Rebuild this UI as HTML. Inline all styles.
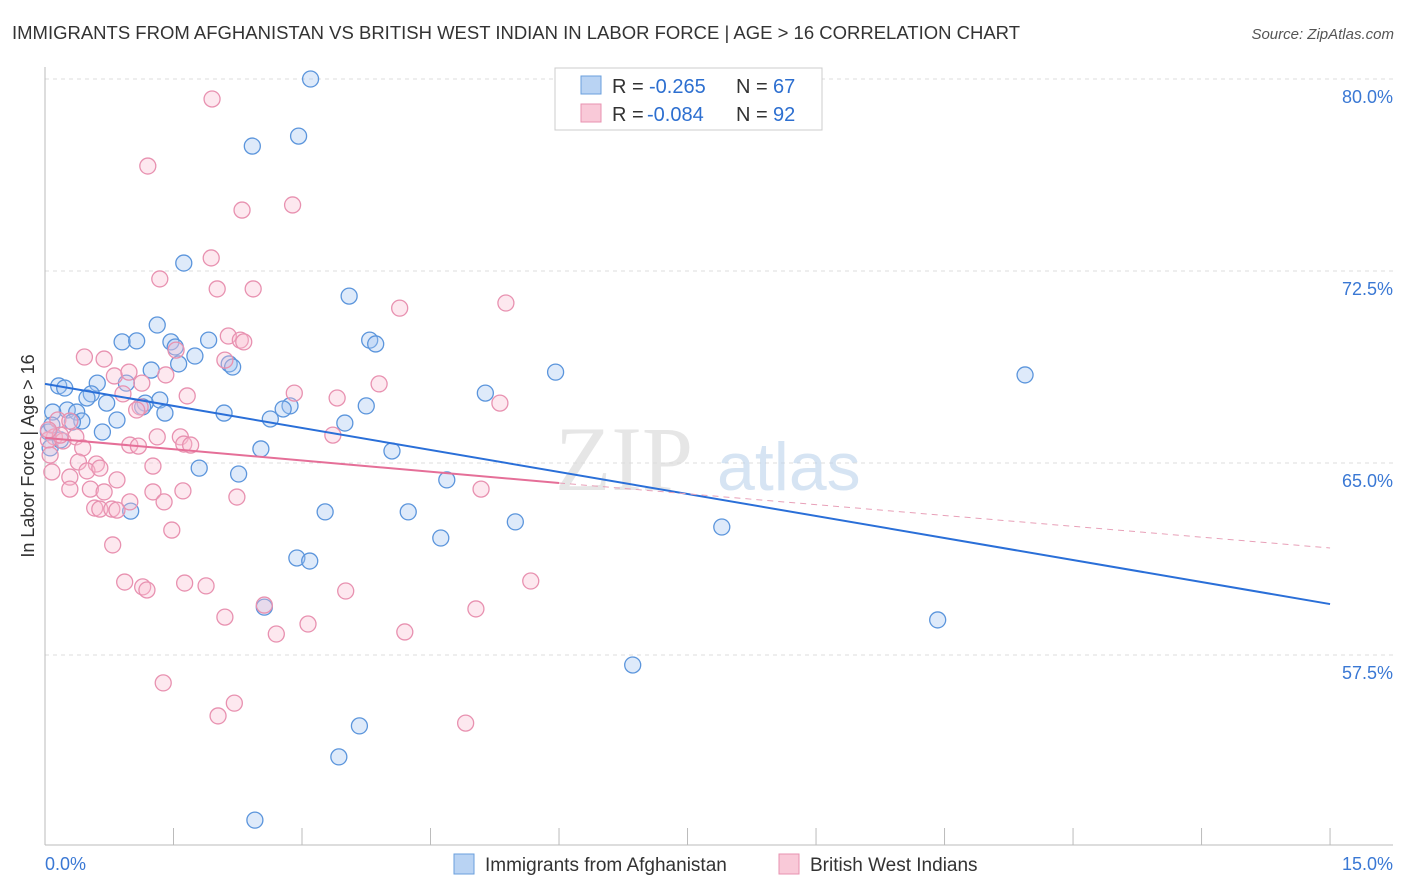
<!DOCTYPE html>
<html><head><meta charset="utf-8"><style>
body{margin:0;background:#fff;font-family:"Liberation Sans",sans-serif;}
svg{display:block}
</style></head><body>
<svg id="chart" width="1406" height="892">
<text x="12" y="39" font-size="18" fill="#333" textLength="1008" lengthAdjust="spacingAndGlyphs">IMMIGRANTS FROM AFGHANISTAN VS BRITISH WEST INDIAN IN LABOR FORCE | AGE &gt; 16 CORRELATION CHART</text>
<text x="1394" y="39" font-size="15" fill="#555" font-style="italic" text-anchor="end">Source: ZipAtlas.com</text>
<g id="grid"></g>
<g id="watermark">
<text x="555" y="490" font-size="92" fill="#dcdcdc" font-family="Liberation Serif,serif" opacity="0.7">ZIP</text>
<text x="717" y="490" font-size="68" fill="#bcd3ec" opacity="0.6">atlas</text>
</g>
<g id="axes"></g>
<g id="marks"></g>
<g>
<rect x="555" y="68" width="267" height="62" fill="#fff" stroke="#ccc"/>
<rect x="581" y="76" width="20" height="18" fill="#b9d3f3" stroke="#6a9fdc"/>
<rect x="581" y="104" width="20" height="18" fill="#f9c9d8" stroke="#e892b0"/>
<text x="612" y="93" font-size="20" fill="#333">R =</text>
<text x="649" y="93" font-size="20" fill="#2d6fd0">-0.265</text>
<text x="736" y="93" font-size="20" fill="#333">N =</text>
<text x="773" y="93" font-size="20" fill="#2d6fd0">67</text>
<text x="612" y="121" font-size="20" fill="#333">R =</text>
<text x="647" y="121" font-size="20" fill="#2d6fd0">-0.084</text>
<text x="736" y="121" font-size="20" fill="#333">N =</text>
<text x="773" y="121" font-size="20" fill="#2d6fd0">92</text>
</g>
<g>
<rect x="454" y="854" width="20" height="20" fill="#b9d3f3" stroke="#6a9fdc"/>
<text x="485" y="871" font-size="19" fill="#333">Immigrants from Afghanistan</text>
<rect x="779" y="854" width="20" height="20" fill="#f9c9d8" stroke="#e892b0"/>
<text x="810" y="871" font-size="19" fill="#333">British West Indians</text>
</g>
<text transform="translate(34,456) rotate(-90)" font-size="18" fill="#333" text-anchor="middle">In Labor Force | Age &gt; 16</text>
</svg>
<script>
const yTicks=[80,72.5,65,57.5];
const yTickLabels=["80.0%","72.5%","65.0%","57.5%"];
const xTickVals=[0,1.5,3,4.5,6,7.5,9,10.5,12,13.5,15];
const xEndLabels=["0.0%","15.0%"];
const blueX=[3.10,2.96,2.42,1.62,3.55,1.31,0.90,1.07,1.47,1.91,1.52,1.75,3.79,3.86,1.24,1.56,2.15,2.19,5.96,11.44,0.61,0.95,0.16,0.23,0.54,0.49,5.14,1.34,1.17,0.72,1.14,2.86,2.78,3.75,0.26,0.37,0.09,1.40,2.09,2.63,0.84,0.43,0.32,3.50,0.67,0.04,0.06,2.52,4.05,1.80,2.26,4.69,1.00,3.27,4.24,5.49,7.90,4.62,2.94,3.09,2.56,10.42,6.86,3.67,3.43,2.45,0.18,0.08];
const blueY=[80.0,77.77,77.38,72.81,71.52,70.39,69.73,69.77,69.73,69.80,69.53,69.18,69.80,69.65,68.63,68.87,68.87,68.75,68.55,68.44,68.12,68.12,68.01,67.93,67.70,67.54,67.73,67.46,67.34,67.34,67.19,67.23,67.11,67.23,67.07,66.99,66.99,66.95,66.95,66.72,66.68,66.64,66.60,66.56,66.21,66.21,65.59,65.55,65.47,64.80,64.57,64.34,63.12,63.09,63.09,62.70,62.50,62.07,61.29,61.17,59.37,58.87,57.11,54.73,53.52,51.05,65.90,66.48];
const pinkX=[1.95,1.20,2.30,2.89,1.94,1.34,2.01,2.43,5.38,4.14,2.14,2.28,2.32,1.53,0.46,0.69,2.10,1.41,0.81,0.98,1.13,2.91,3.90,3.41,0.91,1.66,1.11,1.07,5.31,0.15,0.29,0.11,0.21,0.36,0.04,1.58,0.99,1.09,1.31,1.62,1.70,3.36,0.44,0.08,0.60,0.39,0.29,0.49,0.64,1.26,0.84,0.53,0.29,1.26,1.61,0.69,2.24,0.99,1.39,0.58,0.64,0.78,0.84,1.48,5.09,0.79,0.93,1.14,1.19,1.63,1.88,2.56,3.51,5.67,5.03,2.10,3.07,2.70,4.20,1.38,2.21,2.02,4.91,0.18,0.06,0.04];
const pinkY=[79.22,76.60,74.88,75.08,73.01,72.19,71.80,71.80,71.25,71.05,69.96,69.80,69.73,69.41,69.14,69.06,69.02,68.44,68.40,68.55,68.12,67.73,68.09,67.54,67.70,67.62,67.19,67.07,67.34,66.68,66.64,66.02,65.86,66.02,65.90,66.02,65.70,65.66,66.02,65.74,65.70,66.09,65.59,64.65,64.96,65.04,64.45,64.69,64.80,64.88,64.34,63.98,63.98,63.87,63.91,63.87,63.67,63.48,63.48,63.24,63.20,63.20,63.16,62.38,63.98,61.80,60.35,60.16,60.04,60.31,60.20,59.45,60.00,60.39,59.30,58.98,58.71,58.32,58.40,56.41,55.62,55.12,54.84,66.09,65.31,66.29];
const blueTrend=[68.09,59.49];
const pinkTrend=[65.98,64.22,61.68];
const pinkSolidEnd=6.0;

const NS="http://www.w3.org/2000/svg";
const X=v=>45+v*85.67;
const Y=v=>79+(80-v)*25.6;
function mk(tag,attrs,parent){const e=document.createElementNS(NS,tag);for(const k in attrs)e.setAttribute(k,attrs[k]);parent.appendChild(e);return e;}
const grid=document.getElementById('grid'),axes=document.getElementById('axes'),marks=document.getElementById('marks');
yTicks.forEach((t,i)=>{
  const l=mk('line',{x1:45,x2:1393,y1:Y(t),y2:Y(t),stroke:'#ddd','stroke-dasharray':'4,4'},grid);
  
  
  const tx=mk('text',{x:1393,y:Y(t)+24,'font-size':18,fill:'#3a78d4','text-anchor':'end'},axes);
  tx.textContent=yTickLabels[i];
  
  
});
let a=mk('line',{x1:45,x2:45,y1:67,y2:845,stroke:'#bbb'},axes);


a=mk('line',{x1:45,x2:1393,y1:845,y2:845,stroke:'#bbb'},axes);


xTickVals.forEach(v=>{
  const t=mk('line',{x1:X(v),x2:X(v),y1:828,y2:845,stroke:'#bbb'},axes);
  
  
});
let xl=mk('text',{x:45,y:870,'font-size':18,fill:'#3a78d4'},axes);xl.textContent=xEndLabels[0];


xl=mk('text',{x:1393,y:870,'font-size':18,fill:'#3a78d4','text-anchor':'end'},axes);xl.textContent=xEndLabels[1];



blueX.forEach((v,i)=>{
  const c=mk('circle',{cx:X(v),cy:Y(blueY[i]),r:8,fill:'rgba(160,196,240,0.35)',stroke:'#5b95dc','stroke-width':1.3},marks);
  
  
});
pinkX.forEach((v,i)=>{
  const c=mk('circle',{cx:X(v),cy:Y(pinkY[i]),r:8,fill:'rgba(248,190,210,0.35)',stroke:'#e891b0','stroke-width':1.3},marks);
  
  
});
let ln=mk('line',{x1:X(0),y1:Y(blueTrend[0]),x2:X(15),y2:Y(blueTrend[1]),stroke:'#2a6fd8','stroke-width':2},marks);


ln=mk('line',{x1:X(0),y1:Y(pinkTrend[0]),x2:X(pinkSolidEnd),y2:Y(pinkTrend[1]),stroke:'#e56f98','stroke-width':2},marks);


ln=mk('line',{x1:X(pinkSolidEnd),y1:Y(pinkTrend[1]),x2:X(15),y2:Y(pinkTrend[2]),stroke:'#e8a0b8','stroke-width':1,'stroke-dasharray':'6,5'},marks);


</script>
</body></html>
